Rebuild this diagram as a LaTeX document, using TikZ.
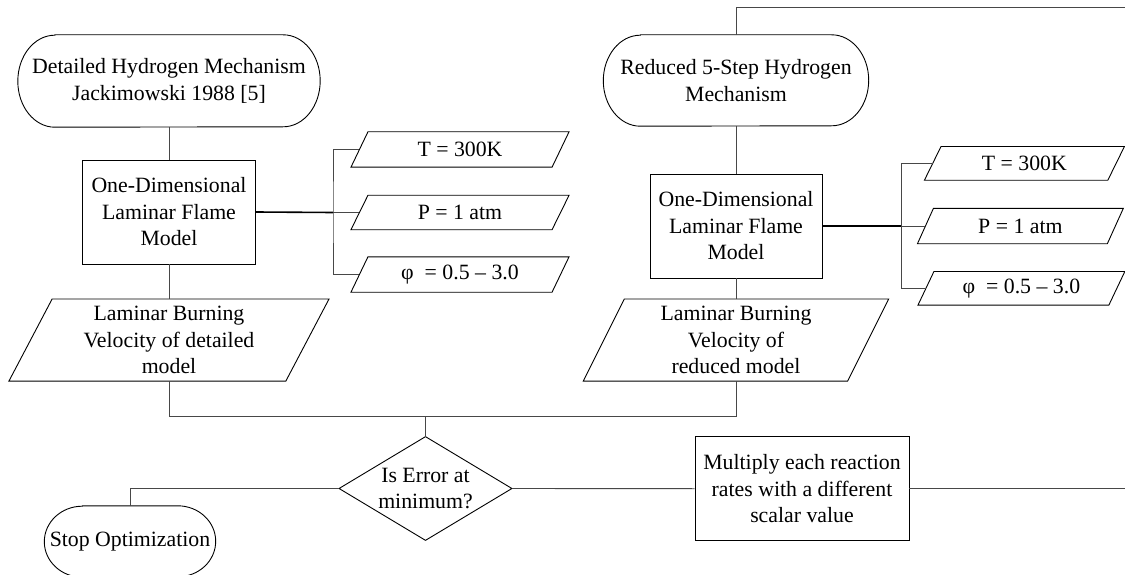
\documentclass[tikz,border=0pt]{standalone}
\usepackage{fontspec}
\setmainfont{Liberation Serif}
\usetikzlibrary{calc}
\tikzset{
  shapeline/.style={draw=black, line width=0.9pt, line join=miter},
  conn/.style={draw=black!72, line width=0.9pt},
  boldconn/.style={draw=black, line width=1.6pt},
  lbl/.style={inner sep=0pt, align=center, font=\fontsize{21.8}{26.5}\selectfont},
  procbox/.style={lbl, draw=black, line width=0.9pt},
}
% parallelogram outline around an (invisible) node: #2 = half of the slant
\newcommand\drawpara[2]{\draw[shapeline] ([xshift=-#2]#1.south west) -- ([xshift=-#2]#1.south east) -- ([xshift=#2]#1.north east) -- ([xshift=#2]#1.north west) -- cycle;}
% terminal (stadium) outline around an (invisible) node: #2 = x radius, #3 = y radius
\newcommand\drawterm[3]{\draw[shapeline] ([xshift=#2]#1.north west) -- ([xshift=-#2]#1.north east) arc[start angle=90,end angle=-90,x radius=#2,y radius=#3] -- ([xshift=#2]#1.south west) arc[start angle=270,end angle=90,x radius=#2,y radius=#3] -- cycle;}
\begin{document}
\begin{tikzpicture}[x=1pt,y=-1pt]
\fill[white] (0,0) rectangle (1125,575);
\useasboundingbox (0,0) rectangle (1125,575);

% ---------- left column ----------
\node[lbl, minimum width=302pt, minimum height=92pt] (det) at (169,81) {Detailed Hydrogen Mechanism\\Jackimowski 1988 [5]};
\drawterm{det}{37pt}{46pt}
\node[procbox, minimum width=173pt, minimum height=104pt] (box1) at (169,212) {One-Dimensional\\Laminar Flame\\Model};
\node[lbl, minimum width=200.7pt, minimum height=35pt] (T1) at (460,149.5) {T = 300K};
\drawpara{T1}{8.5pt}
\node[lbl, minimum width=200.7pt, minimum height=34pt] (P1) at (460,212.5) {P = 1 atm};
\drawpara{P1}{8.5pt}
\node[lbl, minimum width=200.7pt, minimum height=35pt] (F1) at (460,274.5) {φ~ = 0.5 – 3.0};
\drawpara{F1}{8.5pt}
\node[lbl, minimum width=276.5pt, minimum height=81.7pt] (lamD) at (169,340) {Laminar Burning\\Velocity of detailed\\model};
\drawpara{lamD}{21.6pt}

% ---------- right column ----------
\node[lbl, minimum width=265pt, minimum height=91pt] (red) at (736,80.5) {Reduced 5-Step Hydrogen\\Mechanism};
\drawterm{red}{37pt}{45.5pt}
\node[procbox, minimum width=172pt, minimum height=104pt] (box2) at (736,226) {One-Dimensional\\Laminar Flame\\Model};
\node[lbl, minimum width=183pt, minimum height=33.3pt] (T2) at (1024.4,163.4) {T = 300K};
\drawpara{T2}{8.3pt}
\node[lbl, minimum width=189.5pt, minimum height=35pt] (P2) at (1020.4,226) {P = 1 atm};
\drawpara{P2}{8pt}
\node[lbl, minimum width=190.5pt, minimum height=33.3pt] (F2) at (1021.4,288.3) {φ~ = 0.5 – 3.0};
\drawpara{F2}{8pt}
\node[lbl, minimum width=264pt, minimum height=81.7pt] (lamR) at (736,340) {Laminar Burning\\Velocity of\\reduced model};
\drawpara{lamR}{20.5pt}

% ---------- bottom row ----------
\node[lbl, minimum width=172.4pt, minimum height=103.3pt] (dia) at (425.5,488.5) {Is Error at\\minimum?};
\draw[shapeline] (dia.north) -- (dia.east) -- (dia.south) -- (dia.west) -- cycle;
\node[procbox, minimum width=214pt, minimum height=104pt] (mul) at (802,488.7) {Multiply each reaction\\rates with a different\\scalar value};
\node[lbl, minimum width=171pt, minimum height=71pt] (stop) at (130,541.5) {Stop Optimization};
\drawterm{stop}{38pt}{35.5pt}

% ---------- junction coordinates ----------
\coordinate (brL) at (333,212.5);
\coordinate (brR) at (901.7,226);
\coordinate (jn) at (425.5,416);
\coordinate (rend) at (1125,488.7);
\coordinate (tend) at (1125,7.3);

% ---------- connectors ----------
\draw[conn] (det.south) -- (box1.north);
\draw[conn] (box1.south) -- (lamD.north);
\draw[boldconn] (box1.east) -- (brL);
\draw[conn] (T1.west) -| (brL) |- (F1.west);
\draw[conn] (brL) -- (P1.west);

\draw[conn] (red.south) -- (box2.north);
\draw[conn] (box2.south) -- (lamR.north);
\draw[boldconn] (box2.east) -- (brR);
\draw[conn] (T2.west) -| (brR) |- (F2.west);
\draw[conn] (brR) -- (P2.west);

\draw[conn] (lamD.south) |- (jn);
\draw[conn] (lamR.south) |- (jn);
\draw[conn] (jn) -- (dia.north);
\draw[conn] (dia.west) -| (stop.north);
\draw[conn] (dia.east) -- (mul.west);
\draw[conn] (mul.east) -- (rend);
\draw[conn] (red.north) |- (tend);
\end{tikzpicture}
\end{document}
